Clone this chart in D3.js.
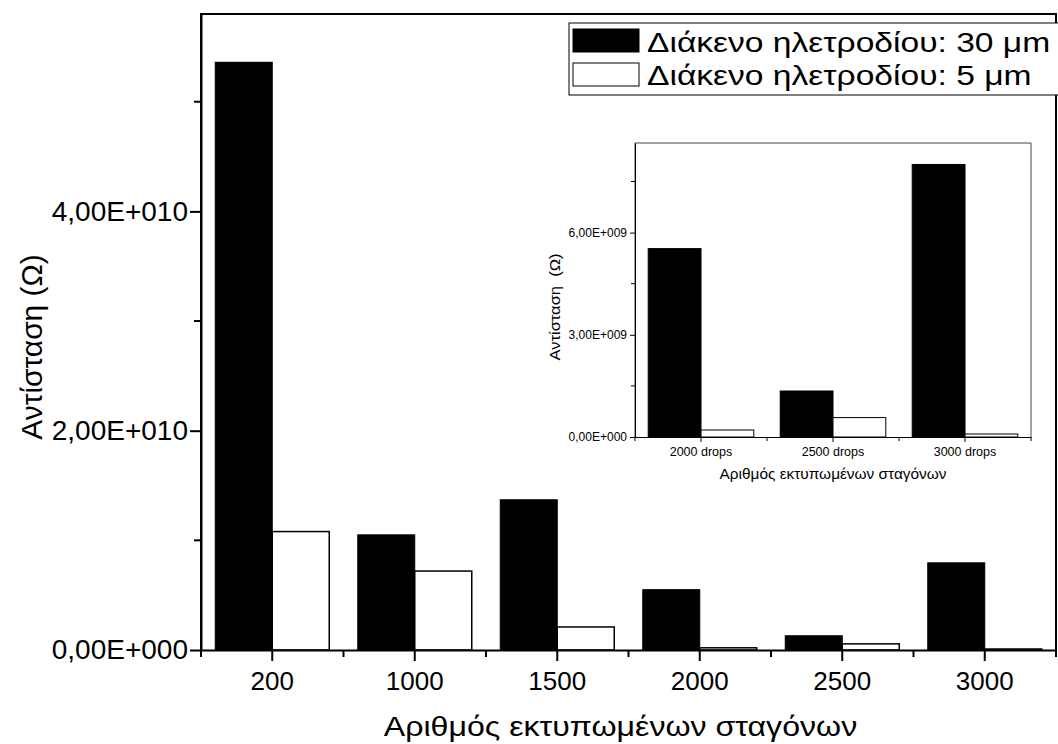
<!DOCTYPE html>
<html>
<head>
<meta charset="utf-8">
<script src="https://cdn.jsdelivr.net/npm/d3@7"></script>
<style>
  body { margin: 0; background: #fff; }
  svg { display: block; font-family: "Liberation Sans", Arial, sans-serif; }
</style>
</head>
<body>
<svg id="chart" width="1058" height="744"></svg>
<script>
// main chart data
const categories = ["200", "1000", "1500", "2000", "2500", "3000"];
const gap30 = [5.36e10, 1.05e10, 1.37e10, 5.5e9, 1.3e9, 7.95e9];
const gap5 = [1.08e10, 7.2e9, 2.1e9, 2.0e8, 5.6e8, 9e7];
const mainTicks = [0, 2e10, 4e10];
const mainMinor = [1e10, 3e10, 5e10];

// inset data
const insetCategories = ["2000 drops", "2500 drops", "3000 drops"];
const insetGap30 = [5.53e9, 1.35e9, 8.0e9];
const insetGap5 = [2.05e8, 5.7e8, 8.8e7];
const insetTicks = [0, 3e9, 6e9];
const insetMinor = [1.5e9, 4.5e9, 7.5e9];

const legendLabels = ["Διάκενο ηλετροδίου: 30 μm", "Διάκενο ηλετροδίου: 5 μm"];

// "4,00E+010" style labels
function sciFmt(v) {
    if (v === 0) return "0,00E+000";
    const e = Math.floor(Math.log10(Math.abs(v)));
    const m = v / Math.pow(10, e);
    return m.toFixed(2).replace(".", ",") + "E+" + String(e).padStart(3, "0");
}

const svg = d3.select("#chart");

/**
 * Draws a grouped bar panel with frame, ticks and labels
 */
function drawPanel(g, opt) {
    const x = d3.scaleBand().domain(opt.cats).range([opt.left, opt.right]).padding(0);
    const y = d3.scaleLinear().domain([0, opt.ymax]).range([opt.bottom, opt.top]);
    const bw = x.bandwidth() * 0.4;

    const rows = opt.cats.map((c, i) => ({ c: c, a: opt.s1[i], b: opt.s2[i] }));

    g.selectAll(".bar-a")
        .data(rows)
        .join("rect")
        .attr("x", d => x(d.c) + x.bandwidth() / 2 - bw)
        .attr("y", d => y(d.a))
        .attr("width", bw)
        .attr("height", d => y(0) - y(d.a))
        .attr("fill", "#000")
        .attr("stroke", "#000")
        .attr("stroke-width", 1);

    g.selectAll(".bar-b")
        .data(rows)
        .join("rect")
        .attr("x", d => x(d.c) + x.bandwidth() / 2)
        .attr("y", d => y(d.b))
        .attr("width", bw)
        .attr("height", d => y(0) - y(d.b))
        .attr("fill", "#fff")
        .attr("stroke", "#000")
        .attr("stroke-width", opt.barStroke);

    // frame
    g.append("path")
        .attr("d", `M${opt.left},${opt.bottom}V${opt.top}H${opt.right}V${opt.bottom}`)
        .attr("fill", "none")
        .attr("stroke", opt.frameColor)
        .attr("stroke-width", opt.frameWidth);

    // x axis
    const xAxis = g.append("g")
        .attr("transform", `translate(0,${opt.bottom})`)
        .call(d3.axisBottom(x).tickSize(opt.majorLen).tickSizeOuter(0).tickPadding(opt.xPad));
    xAxis.select(".domain").attr("stroke-width", opt.axisWidth);
    xAxis.selectAll(".tick line").attr("stroke-width", opt.axisWidth);
    xAxis.selectAll(".tick text")
        .attr("font-size", opt.xFont)
        .attr("font-family", "Liberation Sans, Arial, sans-serif")
        .attr("fill", "#000");

    const bounds = opt.cats.map(c => x(c)).concat([opt.right]);
    g.selectAll(".xminor")
        .data(bounds)
        .join("line")
        .attr("x1", d => d).attr("x2", d => d)
        .attr("y1", opt.bottom).attr("y2", opt.bottom + opt.minorLen)
        .attr("stroke", "#000")
        .attr("stroke-width", opt.axisWidth);

    // y axis
    const yAxis = g.append("g")
        .attr("transform", `translate(${opt.left},0)`)
        .call(d3.axisLeft(y).tickValues(opt.ticks).tickFormat(sciFmt)
            .tickSize(opt.majorLen).tickSizeOuter(0).tickPadding(opt.yPad));
    yAxis.select(".domain").attr("stroke-width", opt.axisWidth);
    yAxis.selectAll(".tick line").attr("stroke-width", opt.axisWidth);
    yAxis.selectAll(".tick text")
        .attr("font-size", opt.yFont)
        .attr("font-family", "Liberation Sans, Arial, sans-serif")
        .attr("fill", "#000");

    g.selectAll(".yminor")
        .data(opt.minor)
        .join("line")
        .attr("x1", opt.left - opt.minorLen).attr("x2", opt.left)
        .attr("y1", d => y(d)).attr("y2", d => y(d))
        .attr("stroke", "#000")
        .attr("stroke-width", opt.axisWidth);

    // titles (the original type is a little wider than Arial)
    g.append("text")
        .attr("transform", `translate(${(opt.left + opt.right) / 2 + opt.xTitleShift},${opt.xTitleY}) scale(${opt.stretch},1)`)
        .attr("text-anchor", "middle")
        .attr("font-size", opt.titleFont)
        .text("Αριθμός εκτυπωμένων σταγόνων");

    g.append("text")
        .attr("transform", `translate(${opt.yTitleX},${opt.yTitleMid}) rotate(-90) scale(${opt.yStretch},1)`)
        .attr("text-anchor", "middle")
        .attr("font-size", opt.yTitleFont)
        .style("white-space", "pre")
        .text(opt.yTitle);
}

drawPanel(svg.append("g"), {
    cats: categories, s1: gap30, s2: gap5,
    left: 201, right: 1056, top: 14, bottom: 650, ymax: 5.8e10,
    ticks: mainTicks, minor: mainMinor,
    majorLen: 11, minorLen: 7, axisWidth: 2, frameWidth: 2, frameColor: "#000",
    barStroke: 1.5, xPad: 11, yPad: 2, xFont: 26, yFont: 28,
    titleFont: 27, stretch: 1.19, xTitleY: 736, xTitleShift: -8,
    yTitleFont: 29, yStretch: 1.03, yTitleX: 42, yTitleMid: 347,
    yTitle: "Αντίσταση (Ω)"
});

drawPanel(svg.append("g"), {
    cats: insetCategories, s1: insetGap30, s2: insetGap5,
    left: 635, right: 1031, top: 143, bottom: 437, ymax: 8.63e9,
    ticks: insetTicks, minor: insetMinor,
    majorLen: 5, minorLen: 4, axisWidth: 1, frameWidth: 1, frameColor: "#444",
    barStroke: 1, xPad: 5, yPad: 3, xFont: 12.5, yFont: 12,
    titleFont: 14, stretch: 1.1, xTitleY: 479, xTitleShift: 0,
    yTitleFont: 15, yStretch: 1.1, yTitleX: 560, yTitleMid: 307,
    yTitle: "Αντίσταση  (Ω)"
});

// legend
const legend = svg.append("g");
legend.append("rect")
    .attr("x", 569).attr("y", 23)
    .attr("width", 500).attr("height", 72)
    .attr("fill", "#fff")
    .attr("stroke", "#000")
    .attr("stroke-width", 1);

legend.selectAll(".swatch")
    .data(legendLabels)
    .join("rect")
    .attr("x", 573)
    .attr("y", (d, i) => 29 + i * 34)
    .attr("width", 66)
    .attr("height", 23)
    .attr("fill", (d, i) => i === 0 ? "#000" : "#fff")
    .attr("stroke", "#000")
    .attr("stroke-width", 1);

legend.selectAll(".label")
    .data(legendLabels)
    .join("text")
    .attr("transform", (d, i) => `translate(647,${52 + i * 33}) scale(1.2,1)`)
    .attr("font-size", 28)
    .text(d => d);
</script>
</body>
</html>
